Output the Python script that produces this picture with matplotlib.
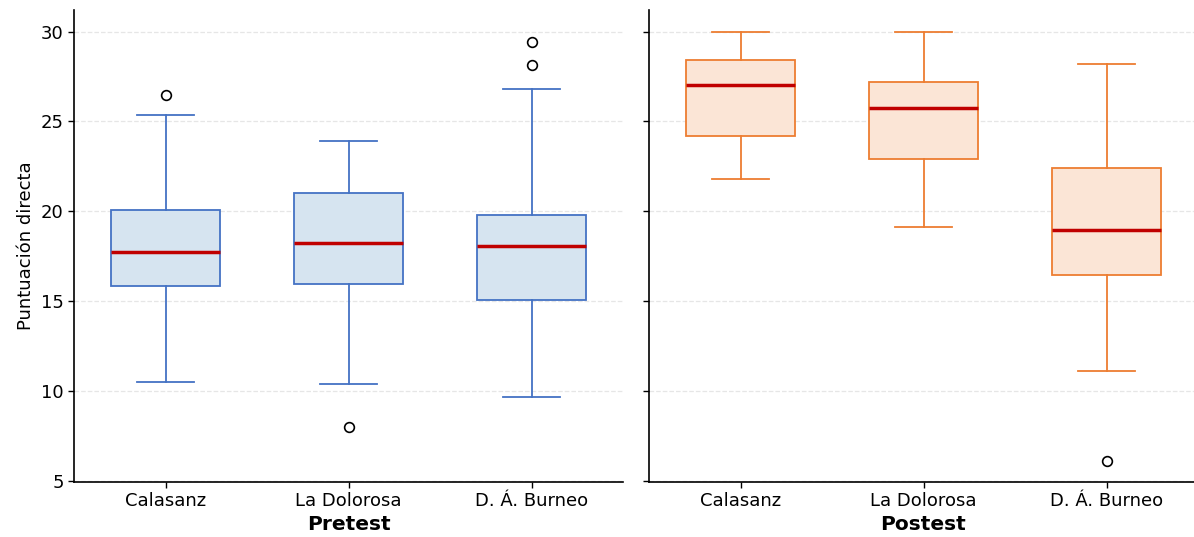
import matplotlib
matplotlib.use("Agg")
import matplotlib.pyplot as plt

grupos = ["Calasanz", "La Dolorosa", "D. Á. Burneo"]

# estadisticos: whislo, q1, med, q3, whishi, atipicos
pre_whislo = [10.5, 10.4, 9.7]
pre_q1 = [15.85, 15.95, 15.05]
pre_med = [17.75, 18.25, 18.05]
pre_q3 = [20.05, 21.0, 19.8]
pre_whishi = [25.35, 23.9, 26.8]
pre_fliers = [[26.5], [8.0], [29.4, 28.15]]

post_whislo = [21.8, 19.15, 11.1]
post_q1 = [24.2, 22.9, 16.45]
post_med = [27.05, 25.75, 18.95]
post_q3 = [28.4, 27.2, 22.4]
post_whishi = [30.0, 30.0, 28.2]
post_fliers = [[], [], [6.1]]


def stats(whislo, q1, med, q3, whishi, fliers):
    out = []
    for i, g in enumerate(grupos):
        out.append({"label": g, "whislo": whislo[i], "q1": q1[i], "med": med[i],
                    "q3": q3[i], "whishi": whishi[i], "fliers": fliers[i]})
    return out


fig = plt.figure(figsize=(11.94, 5.37), dpi=100)
ax1 = fig.add_axes([74 / 1194, 55 / 537, 549 / 1194, 472 / 537])
ax2 = fig.add_axes([649 / 1194, 55 / 537, 549 / 1194, 472 / 537], sharey=ax1)

paneles = [
    (ax1, stats(pre_whislo, pre_q1, pre_med, pre_q3, pre_whishi, pre_fliers), "#4472C4", "#D6E4F0", "Pretest"),
    (ax2, stats(post_whislo, post_q1, post_med, post_q3, post_whishi, post_fliers), "#ED7D31", "#FBE5D6", "Postest"),
]

for ax, st, edge, fill, titulo in paneles:
    ax.bxp(st, positions=[0, 1, 2], widths=0.6, patch_artist=True, capwidths=0.31,
           boxprops=dict(facecolor=fill, edgecolor=edge, linewidth=1.3),
           whiskerprops=dict(color=edge, linewidth=1.3),
           capprops=dict(color=edge, linewidth=1.3),
           medianprops=dict(color="#C00000", linewidth=2.5),
           flierprops=dict(marker="o", markerfacecolor="white", markeredgecolor="black",
                           markersize=7, markeredgewidth=1.2))
    ax.set_xlim(-0.5, 2.5)
    ax.set_xticks([0, 1, 2])
    ax.set_xticklabels(grupos, fontsize=13)
    ax.set_xlabel(titulo, fontsize=14.5, fontweight="bold", labelpad=3)
    ax.yaxis.grid(True, linestyle="--", color="#e6e6e6", linewidth=0.9)
    ax.set_axisbelow(True)
    ax.spines["top"].set_visible(False)
    ax.spines["right"].set_visible(False)
    ax.spines["left"].set_linewidth(1.2)
    ax.spines["bottom"].set_linewidth(1.2)
    ax.tick_params(axis="both", labelsize=13, width=1.0, length=4)

ax1.set_ylim(4.95, 31.2)
ax1.set_yticks([5, 10, 15, 20, 25, 30])
ax1.set_ylabel("Puntuación directa", fontsize=13)
ax2.tick_params(axis="y", labelleft=False)

fig.savefig("out.png", dpi=100)
